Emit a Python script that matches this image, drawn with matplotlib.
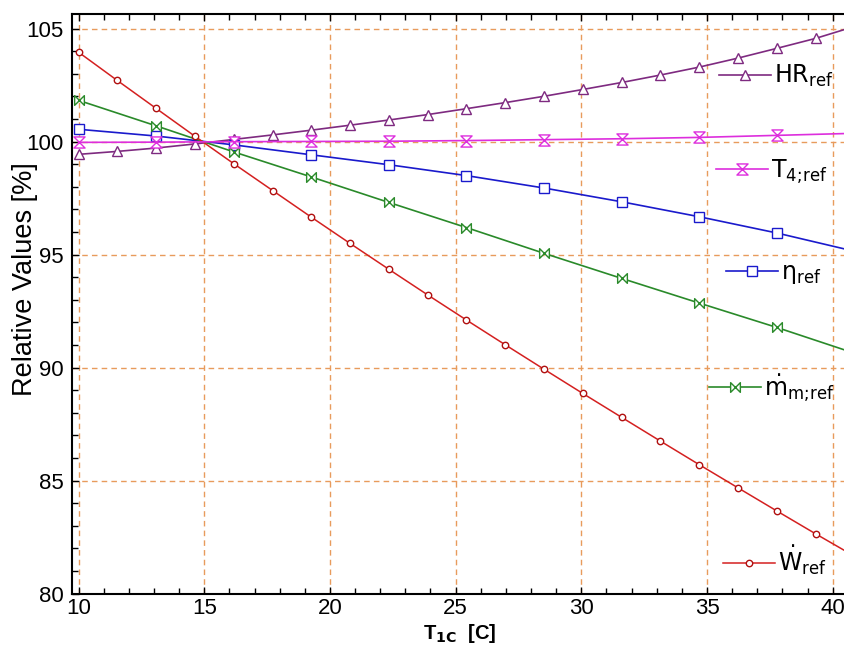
import matplotlib
matplotlib.use('Agg')
import matplotlib.pyplot as plt
from matplotlib.path import Path
from matplotlib.ticker import MultipleLocator
from matplotlib import font_manager as fm

# ---------------- data ----------------
x_fine = [10.0, 11.54, 13.09, 14.63, 16.17, 17.72, 19.26, 20.80, 22.35, 23.89,
          25.43, 26.98, 28.52, 30.06, 31.61, 33.15, 34.69, 36.24, 37.78, 39.32, 40.49]
x_coarse = [10.0, 13.09, 16.17, 19.26, 22.35, 25.43, 28.52, 31.61, 34.69, 37.78, 40.49]

hr_ref = [99.44, 99.57, 99.72, 99.90, 100.10, 100.30, 100.51, 100.73, 100.96, 101.20,
          101.46, 101.73, 102.01, 102.31, 102.62, 102.95, 103.30, 103.70, 104.13, 104.57, 104.97]
w_ref = [103.96, 102.71, 101.47, 100.24, 99.03, 97.84, 96.66, 95.50, 94.35, 93.22,
         92.11, 91.01, 89.93, 88.86, 87.80, 86.75, 85.71, 84.68, 83.66, 82.65, 81.90]
t4_ref = [99.97, 99.98, 100.00, 100.01, 100.02, 100.05, 100.09, 100.13, 100.19, 100.28, 100.36]
eta_ref = [100.55, 100.25, 99.86, 99.42, 98.98, 98.50, 97.95, 97.34, 96.68, 95.96, 95.25]
mdot_ref = [101.83, 100.70, 99.55, 98.44, 97.31, 96.20, 95.06, 93.95, 92.86, 91.78, 90.78]

labels = [r'HR$_{\mathrm{ref}}$', r'T$_{\mathrm{4;\!ref}}$', r'η$_{\mathrm{ref}}$',
          r'$\dot{\mathrm{m}}_{\mathrm{m;\!ref}}$', r'$\dot{\mathrm{W}}_{\mathrm{ref}}$']
x_ticks = [10, 15, 20, 25, 30, 35, 40]
y_ticks = [80, 85, 90, 95, 100, 105]

# ---------------- style ----------------
c_hr = '#7E2A80'
c_t4 = '#DD2EDD'
c_eta = '#1A1ACC'
c_mdot = '#2A8A2A'
c_w = '#D42020'
grid_c = '#E89B5C'

names = {f.name for f in fm.fontManager.ttflist}
narrow = 'Liberation Sans Narrow' if 'Liberation Sans Narrow' in names else 'Liberation Sans'

plt.rcParams['font.family'] = ['Liberation Sans', 'DejaVu Sans']
plt.rcParams['mathtext.fontset'] = 'dejavusans'

hourglass = Path([(-1, -1), (1, 1), (-1, 1), (1, -1), (-1, -1)],
                 [Path.MOVETO, Path.LINETO, Path.LINETO, Path.LINETO, Path.CLOSEPOLY])
bowtie = Path([(-1, -1), (1, 1), (1, -1), (-1, 1), (-1, -1)],
              [Path.MOVETO, Path.LINETO, Path.LINETO, Path.LINETO, Path.CLOSEPOLY])

fig = plt.figure(figsize=(8.45, 6.46), dpi=100)
ax = fig.add_axes([72 / 845, 52.3 / 646, 773 / 845, 579.7 / 646])

lw = 1.2
me = slice(0, -1)
l_hr, = ax.plot(x_fine, hr_ref, color=c_hr, lw=lw, marker='^', ms=6.5, mfc='white',
                mec=c_hr, mew=1.0, markevery=me, zorder=3)
l_t4, = ax.plot(x_coarse, t4_ref, color=c_t4, lw=lw, marker=hourglass, ms=8, mfc='white',
                mec=c_t4, mew=1.0, markevery=me, zorder=4)
l_eta, = ax.plot(x_coarse, eta_ref, color=c_eta, lw=lw, marker='s', ms=6.5, mfc='white',
                 mec=c_eta, mew=1.0, markevery=me, zorder=3)
l_md, = ax.plot(x_coarse, mdot_ref, color=c_mdot, lw=lw, marker=bowtie, ms=7, mfc='white',
                mec=c_mdot, mew=1.0, markevery=me, zorder=3)
l_w, = ax.plot(x_fine, w_ref, color=c_w, lw=1.1, marker='o', ms=4.6, mfc='white',
               mec='#B01010', mew=1.0, markevery=me, zorder=3)

ax.set_xlim(9.74, 40.49)
ax.set_ylim(80, 105.65)
ax.set_xticks(x_ticks)
ax.set_yticks(y_ticks)
ax.xaxis.set_minor_locator(MultipleLocator(1))
ax.yaxis.set_minor_locator(MultipleLocator(1))
ax.tick_params(which='both', direction='in', top=True, right=False,
               width=1.0, color='black')
ax.tick_params(which='major', length=5)
ax.tick_params(which='minor', length=4)
ax.tick_params(axis='x', which='major', pad=3)
ax.tick_params(axis='y', which='major', pad=6)
for t in ax.get_xticklabels() + ax.get_yticklabels():
    t.set_fontfamily(narrow)
    t.set_fontsize(16)
ax.spines['right'].set_visible(False)
for s in ['left', 'bottom', 'top']:
    ax.spines[s].set_linewidth(1.5)

ax.grid(True, which='major', color=grid_c, linestyle=(0, (4, 3)), linewidth=1.0)
ax.set_axisbelow(True)

ax.set_ylabel('Relative Values [%]', fontsize=19.5)
ax.yaxis.set_label_coords(-0.044, 0.543)
ax.set_xlabel(r'T$_{\mathbf{1C}}$  [C]', fontsize=14.5, fontweight='bold',
              fontfamily=narrow, va='top')
ax.xaxis.set_label_coords(0.502, -0.049)

# inline legend entries
handles = [l_hr, l_t4, l_eta, l_md, l_w]
anchors = [(0.837, 0.893), (0.833, 0.728), (0.846, 0.553), (0.824, 0.355), (0.842, 0.058)]
legs = []
for h, lab, anc in zip(handles, labels, anchors):
    lg = ax.legend([h], [lab], loc='center left', bbox_to_anchor=anc, frameon=False,
                   borderpad=0, borderaxespad=0, handlelength=2.2, handletextpad=0.15,
                   numpoints=1, prop={'family': 'DejaVu Sans', 'size': 17})
    legs.append(lg)
for lg in legs[:-1]:
    ax.add_artist(lg)

fig.savefig('out.png', dpi=100)
